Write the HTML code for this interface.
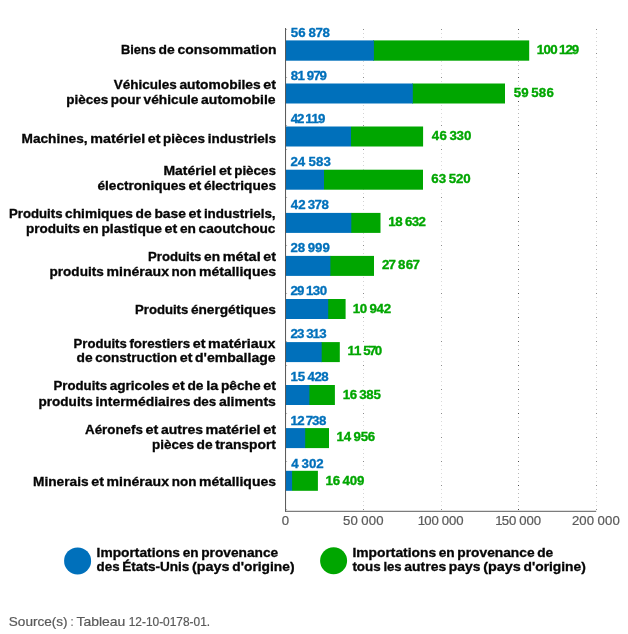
<!DOCTYPE html>
<html lang="fr">
<head>
<meta charset="utf-8">
<title>Importations selon le pays d'origine</title>
<style>
html,body{margin:0;padding:0;background:#fff;}
body{width:628px;height:634px;overflow:hidden;font-family:"Liberation Sans",sans-serif;}
svg{display:block;}
text{font-family:"Liberation Sans",sans-serif;}
.cat,.lg{font-weight:700;font-size:13.3px;fill:#060606;stroke:#060606;stroke-width:.32px;word-spacing:-.8px;}
.vb{font-weight:700;font-size:11.9px;fill:#0070BB;stroke:#0070BB;stroke-width:.3px;}
.vg{font-weight:700;font-size:11.9px;fill:#00A600;stroke:#00A600;stroke-width:.3px;}
.tk{font-size:12.2px;fill:#5a5a5a;stroke:#5a5a5a;stroke-width:.2px;}
.src{font-size:12.2px;fill:#5a5a5a;stroke:#5a5a5a;stroke-width:.2px;}
</style>
</head>
<body>
<svg width="628" height="634" viewBox="0 0 628 634">
<rect x="0" y="0" width="628" height="634" fill="#fff"/>
<g stroke-width="1" stroke-dasharray="1 3" fill="none">
<line x1="363.5" y1="29" x2="363.5" y2="511" stroke="#d4d4d4"/>
<line x1="441.5" y1="29" x2="441.5" y2="511" stroke="#dadada"/>
<line x1="518.5" y1="29" x2="518.5" y2="511" stroke="#b8b8b8"/>
<line x1="596.5" y1="29" x2="596.5" y2="511" stroke="#d0d0d0"/>
</g>
<g stroke-width="1" stroke-dasharray="1 23" fill="none">
<line x1="363.5" y1="29" x2="363.5" y2="511" stroke="#8c8c8c"/>
<line x1="441.5" y1="29" x2="441.5" y2="511" stroke="#8c8c8c"/>
<line x1="518.5" y1="29" x2="518.5" y2="511" stroke="#4a4a4a"/>
<line x1="596.5" y1="29" x2="596.5" y2="511" stroke="#8c8c8c"/>
</g>
<line x1="286.6" y1="29" x2="286.6" y2="511" stroke="#9a9a9a" stroke-width="0.8" stroke-dasharray="1 23"/>
<rect x="373" y="40.4" width="156.2" height="20.3" fill="#00A600"/><rect x="285.5" y="40.4" width="88.4" height="20.3" fill="#0070BB"/>
<rect x="412" y="83.5" width="93.0" height="20.0" fill="#00A600"/><rect x="285.5" y="83.5" width="127.3" height="20.0" fill="#0070BB"/>
<rect x="351" y="126.5" width="72.1" height="20.0" fill="#00A600"/><rect x="285.5" y="126.5" width="65.5" height="20.0" fill="#0070BB"/>
<rect x="324" y="169.7" width="99.0" height="20.0" fill="#00A600"/><rect x="285.5" y="169.7" width="38.5" height="20.0" fill="#0070BB"/>
<rect x="351" y="212.9" width="29.5" height="20.0" fill="#00A600"/><rect x="285.5" y="212.9" width="65.8" height="20.0" fill="#0070BB"/>
<rect x="330" y="255.9" width="44.0" height="20.0" fill="#00A600"/><rect x="285.5" y="255.9" width="44.9" height="20.0" fill="#0070BB"/>
<rect x="328" y="299.0" width="17.6" height="20.0" fill="#00A600"/><rect x="285.5" y="299.0" width="42.7" height="20.0" fill="#0070BB"/>
<rect x="321" y="342.1" width="18.8" height="20.0" fill="#00A600"/><rect x="285.5" y="342.1" width="36.2" height="20.0" fill="#0070BB"/>
<rect x="309" y="385.0" width="25.9" height="20.0" fill="#00A600"/><rect x="285.5" y="385.0" width="23.9" height="20.0" fill="#0070BB"/>
<rect x="305" y="428.1" width="24.0" height="20.0" fill="#00A600"/><rect x="285.5" y="428.1" width="19.7" height="20.0" fill="#0070BB"/>
<rect x="292" y="470.8" width="25.9" height="20.0" fill="#00A600"/><rect x="285.5" y="470.8" width="6.6" height="20.0" fill="#0070BB"/>
<line x1="285.55" y1="28" x2="285.55" y2="511.8" stroke="#555" stroke-width="1"/>
<line x1="285.05" y1="511.3" x2="596.2" y2="511.3" stroke="#5c5c5c" stroke-width="1"/>
<text class="cat" y="54.4"><tspan x="121.0" textLength="35.0" lengthAdjust="spacingAndGlyphs">Biens</tspan> <tspan x="158.6" textLength="16.2" lengthAdjust="spacingAndGlyphs">de</tspan> <tspan x="177.5" textLength="98.9" lengthAdjust="spacingAndGlyphs">consommation</tspan></text>
<text class="cat" y="89.0"><tspan x="113.8" textLength="63.0" lengthAdjust="spacingAndGlyphs">Véhicules</tspan> <tspan x="179.4" textLength="81.3" lengthAdjust="spacingAndGlyphs">automobiles</tspan> <tspan x="263.3" textLength="12.7" lengthAdjust="spacingAndGlyphs">et</tspan></text>
<text class="cat" y="104.3"><tspan x="66.2" textLength="42.0" lengthAdjust="spacingAndGlyphs">pièces</tspan> <tspan x="110.8" textLength="30.1" lengthAdjust="spacingAndGlyphs">pour</tspan> <tspan x="143.6" textLength="54.9" lengthAdjust="spacingAndGlyphs">véhicule</tspan> <tspan x="201.1" textLength="74.5" lengthAdjust="spacingAndGlyphs">automobile</tspan></text>
<text class="cat" y="143.1"><tspan x="21.5" textLength="66.1" lengthAdjust="spacingAndGlyphs">Machines,</tspan> <tspan x="90.3" textLength="54.8" lengthAdjust="spacingAndGlyphs">matériel</tspan> <tspan x="147.7" textLength="12.7" lengthAdjust="spacingAndGlyphs">et</tspan> <tspan x="163.0" textLength="42.0" lengthAdjust="spacingAndGlyphs">pièces</tspan> <tspan x="207.7" textLength="68.3" lengthAdjust="spacingAndGlyphs">industriels</tspan></text>
<text class="cat" y="174.6"><tspan x="163.5" textLength="52.7" lengthAdjust="spacingAndGlyphs">Matériel</tspan> <tspan x="218.9" textLength="12.7" lengthAdjust="spacingAndGlyphs">et</tspan> <tspan x="234.2" textLength="41.8" lengthAdjust="spacingAndGlyphs">pièces</tspan></text>
<text class="cat" y="189.6"><tspan x="97.5" textLength="88.4" lengthAdjust="spacingAndGlyphs">électroniques</tspan> <tspan x="188.5" textLength="12.7" lengthAdjust="spacingAndGlyphs">et</tspan> <tspan x="203.9" textLength="72.1" lengthAdjust="spacingAndGlyphs">électriques</tspan></text>
<text class="cat" y="217.6"><tspan x="9.0" textLength="53.5" lengthAdjust="spacingAndGlyphs">Produits</tspan> <tspan x="65.1" textLength="67.9" lengthAdjust="spacingAndGlyphs">chimiques</tspan> <tspan x="135.6" textLength="16.1" lengthAdjust="spacingAndGlyphs">de</tspan> <tspan x="154.4" textLength="31.5" lengthAdjust="spacingAndGlyphs">base</tspan> <tspan x="188.5" textLength="12.7" lengthAdjust="spacingAndGlyphs">et</tspan> <tspan x="203.9" textLength="71.7" lengthAdjust="spacingAndGlyphs">industriels,</tspan></text>
<text class="cat" y="232.7"><tspan x="26.0" textLength="54.1" lengthAdjust="spacingAndGlyphs">produits</tspan> <tspan x="82.7" textLength="16.0" lengthAdjust="spacingAndGlyphs">en</tspan> <tspan x="101.4" textLength="60.6" lengthAdjust="spacingAndGlyphs">plastique</tspan> <tspan x="164.6" textLength="12.7" lengthAdjust="spacingAndGlyphs">et</tspan> <tspan x="179.9" textLength="16.0" lengthAdjust="spacingAndGlyphs">en</tspan> <tspan x="198.6" textLength="76.9" lengthAdjust="spacingAndGlyphs">caoutchouc</tspan></text>
<text class="cat" y="260.6"><tspan x="148.0" textLength="53.4" lengthAdjust="spacingAndGlyphs">Produits</tspan> <tspan x="204.1" textLength="16.0" lengthAdjust="spacingAndGlyphs">en</tspan> <tspan x="222.7" textLength="38.0" lengthAdjust="spacingAndGlyphs">métal</tspan> <tspan x="263.3" textLength="12.7" lengthAdjust="spacingAndGlyphs">et</tspan></text>
<text class="cat" y="275.6"><tspan x="49.5" textLength="54.3" lengthAdjust="spacingAndGlyphs">produits</tspan> <tspan x="106.5" textLength="62.5" lengthAdjust="spacingAndGlyphs">minéraux</tspan> <tspan x="171.6" textLength="24.7" lengthAdjust="spacingAndGlyphs">non</tspan> <tspan x="199.0" textLength="77.0" lengthAdjust="spacingAndGlyphs">métalliques</tspan></text>
<text class="cat" y="313.5"><tspan x="135.0" textLength="53.3" lengthAdjust="spacingAndGlyphs">Produits</tspan> <tspan x="190.9" textLength="85.0" lengthAdjust="spacingAndGlyphs">énergétiques</tspan></text>
<text class="cat" y="347.5"><tspan x="73.5" textLength="53.3" lengthAdjust="spacingAndGlyphs">Produits</tspan> <tspan x="129.4" textLength="60.7" lengthAdjust="spacingAndGlyphs">forestiers</tspan> <tspan x="192.8" textLength="12.7" lengthAdjust="spacingAndGlyphs">et</tspan> <tspan x="208.1" textLength="67.2" lengthAdjust="spacingAndGlyphs">matériaux</tspan></text>
<text class="cat" y="362.4"><tspan x="76.5" textLength="16.1" lengthAdjust="spacingAndGlyphs">de</tspan> <tspan x="95.2" textLength="81.9" lengthAdjust="spacingAndGlyphs">construction</tspan> <tspan x="179.7" textLength="12.7" lengthAdjust="spacingAndGlyphs">et</tspan> <tspan x="195.0" textLength="80.6" lengthAdjust="spacingAndGlyphs">d'emballage</tspan></text>
<text class="cat" y="390.4"><tspan x="53.5" textLength="53.6" lengthAdjust="spacingAndGlyphs">Produits</tspan> <tspan x="109.7" textLength="59.7" lengthAdjust="spacingAndGlyphs">agricoles</tspan> <tspan x="172.0" textLength="12.7" lengthAdjust="spacingAndGlyphs">et</tspan> <tspan x="187.4" textLength="16.1" lengthAdjust="spacingAndGlyphs">de</tspan> <tspan x="206.2" textLength="12.1" lengthAdjust="spacingAndGlyphs">la</tspan> <tspan x="220.9" textLength="39.7" lengthAdjust="spacingAndGlyphs">pêche</tspan> <tspan x="263.3" textLength="12.7" lengthAdjust="spacingAndGlyphs">et</tspan></text>
<text class="cat" y="405.5"><tspan x="38.5" textLength="54.2" lengthAdjust="spacingAndGlyphs">produits</tspan> <tspan x="95.4" textLength="95.2" lengthAdjust="spacingAndGlyphs">intermédiaires</tspan> <tspan x="193.2" textLength="23.1" lengthAdjust="spacingAndGlyphs">des</tspan> <tspan x="218.9" textLength="57.0" lengthAdjust="spacingAndGlyphs">aliments</tspan></text>
<text class="cat" y="433.7"><tspan x="85.0" textLength="57.9" lengthAdjust="spacingAndGlyphs">Aéronefs</tspan> <tspan x="145.5" textLength="12.8" lengthAdjust="spacingAndGlyphs">et</tspan> <tspan x="161.0" textLength="42.0" lengthAdjust="spacingAndGlyphs">autres</tspan> <tspan x="205.6" textLength="55.0" lengthAdjust="spacingAndGlyphs">matériel</tspan> <tspan x="263.3" textLength="12.8" lengthAdjust="spacingAndGlyphs">et</tspan></text>
<text class="cat" y="448.7"><tspan x="152.0" textLength="41.9" lengthAdjust="spacingAndGlyphs">pièces</tspan> <tspan x="196.5" textLength="16.1" lengthAdjust="spacingAndGlyphs">de</tspan> <tspan x="215.2" textLength="60.8" lengthAdjust="spacingAndGlyphs">transport</tspan></text>
<text class="cat" y="485.9"><tspan x="33.0" textLength="55.6" lengthAdjust="spacingAndGlyphs">Minerais</tspan> <tspan x="91.2" textLength="12.7" lengthAdjust="spacingAndGlyphs">et</tspan> <tspan x="106.6" textLength="62.4" lengthAdjust="spacingAndGlyphs">minéraux</tspan> <tspan x="171.7" textLength="24.7" lengthAdjust="spacingAndGlyphs">non</tspan> <tspan x="199.1" textLength="76.9" lengthAdjust="spacingAndGlyphs">métalliques</tspan></text>
<text class="vb" transform="translate(291.49,36.80) scale(1.120,1)" x="-0.58 6.14 12.26 15.16 21.48 27.73" y="0">56 878</text>
<text class="vb" transform="translate(291.59,79.80) scale(1.120,1)" x="-0.68 5.19 11.04 13.60 19.28 25.00" y="0">81 979</text>
<text class="vb" transform="translate(291.73,122.80) scale(1.120,1)" x="-0.87 4.68 9.91 12.03 17.74 23.55" y="0">42 119</text>
<text class="vb" transform="translate(291.16,165.80) scale(1.120,1)" x="-0.60 5.96 12.34 15.43 22.15 28.82" y="0">24 583</text>
<text class="vb" transform="translate(291.01,209.00) scale(1.120,1)" x="-0.24 6.47 12.21 14.91 20.98 27.23" y="0">42 378</text>
<text class="vb" transform="translate(291.16,252.00) scale(1.120,1)" x="-0.60 5.80 12.03 14.82 21.35 27.88" y="0">28 999</text>
<text class="vb" transform="translate(291.39,295.20) scale(1.120,1)" x="-0.80 5.06 10.85 12.96 19.05 25.28" y="0">29 130</text>
<text class="vb" transform="translate(291.39,338.20) scale(1.120,1)" x="-0.81 4.96 10.73 13.21 18.84 24.91" y="0">23 313</text>
<text class="vb" transform="translate(291.57,381.40) scale(1.120,1)" x="-0.95 5.51 11.37 14.20 20.48 26.47" y="0">15 428</text>
<text class="vb" transform="translate(291.57,424.60) scale(1.120,1)" x="-0.95 5.01 10.55 12.69 18.32 24.50" y="0">12 738</text>
<text class="vb" transform="translate(291.51,467.80) scale(1.120,1)" x="-0.24 6.15 8.84 15.52 22.07" y="0">4 302</text>
<rect x="440.0" y="128.5" width="3" height="16" fill="#fff"/>
<rect x="440.0" y="171.5" width="3" height="16" fill="#fff"/>
<rect x="362.0" y="301.1" width="3" height="16" fill="#fff"/>
<rect x="362.0" y="343.8" width="3" height="16" fill="#fff"/>
<rect x="362.0" y="387.0" width="3" height="16" fill="#fff"/>
<rect x="362.0" y="429.8" width="3" height="16" fill="#fff"/>
<rect x="362.0" y="473.0" width="3" height="16" fill="#fff"/>
<text class="vg" transform="translate(537.77,53.80) scale(1.120,1)" x="-0.95 5.14 11.17 16.95 19.07 24.84 30.30" y="0">100 129</text>
<text class="vg" transform="translate(514.39,96.70) scale(1.120,1)" x="-0.58 6.02 12.02 15.11 21.83 28.72" y="0">59 586</text>
<text class="vg" transform="translate(431.91,140.00) scale(1.120,1)" x="-0.24 6.80 12.91 15.61 22.04 28.71" y="0">46 330</text>
<text class="vg" transform="translate(431.96,183.00) scale(1.120,1)" x="-0.53 6.02 12.01 15.10 21.49 27.93" y="0">63 520</text>
<text class="vg" transform="translate(389.27,226.40) scale(1.120,1)" x="-0.95 5.33 11.33 14.01 20.14 26.03" y="0">18 632</text>
<text class="vg" transform="translate(382.56,269.30) scale(1.120,1)" x="-0.60 5.23 10.83 13.74 20.62 26.82" y="0">27 867</text>
<text class="vg" transform="translate(353.87,312.60) scale(1.120,1)" x="-0.95 5.37 11.38 13.95 20.32 26.60" y="0">10 942</text>
<text class="vg" transform="translate(348.67,355.30) scale(1.120,1)" x="-0.95 4.77 10.61 13.07 18.14 23.32" y="0">11 570</text>
<text class="vg" transform="translate(343.87,398.50) scale(1.120,1)" x="-0.95 5.33 11.24 13.73 19.94 26.56" y="0">16 385</text>
<text class="vg" transform="translate(337.57,441.30) scale(1.120,1)" x="-0.95 5.48 11.64 14.22 20.63 26.93" y="0">14 956</text>
<text class="vg" transform="translate(326.67,484.50) scale(1.120,1)" x="-0.95 5.34 11.24 14.08 20.71 27.06" y="0">16 409</text>
<text class="tk" transform="translate(282.48,525.30) scale(1.080,1)" x="-0.60" y="0">0</text>
<text class="tk" transform="translate(343.68,525.30) scale(1.080,1)" x="-0.63 6.26 12.93 16.20 23.18 30.16" y="0">50 000</text>
<text class="tk" transform="translate(419.30,525.30) scale(1.080,1)" x="-1.48 4.52 11.21 17.74 20.87 27.56 34.25" y="0">100 000</text>
<text class="tk" transform="translate(496.80,525.30) scale(1.080,1)" x="-1.48 4.62 11.21 17.74 20.87 27.56 34.25" y="0">150 000</text>
<text class="tk" transform="translate(572.78,525.30) scale(1.080,1)" x="-0.72 5.91 12.89 19.57 22.84 29.81 36.79" y="0">200 000</text>
<circle cx="77.6" cy="560.9" r="13.5" fill="#0070BB"/>
<circle cx="333.6" cy="560.8" r="13.5" fill="#00A600"/>
<text class="lg" y="557.0"><tspan x="96.6" textLength="83.4" lengthAdjust="spacingAndGlyphs">Importations</tspan> <tspan x="182.7" textLength="15.9" lengthAdjust="spacingAndGlyphs">en</tspan> <tspan x="201.2" textLength="77.0" lengthAdjust="spacingAndGlyphs">provenance</tspan></text>
<text class="lg" y="571.3"><tspan x="96.6" textLength="23.0" lengthAdjust="spacingAndGlyphs">des</tspan> <tspan x="122.3" textLength="67.1" lengthAdjust="spacingAndGlyphs">États-Unis</tspan> <tspan x="192.0" textLength="37.6" lengthAdjust="spacingAndGlyphs">(pays</tspan> <tspan x="232.3" textLength="62.2" lengthAdjust="spacingAndGlyphs">d'origine)</tspan></text>
<text class="lg" y="557.0"><tspan x="352.4" textLength="83.7" lengthAdjust="spacingAndGlyphs">Importations</tspan> <tspan x="438.7" textLength="16.0" lengthAdjust="spacingAndGlyphs">en</tspan> <tspan x="457.3" textLength="77.3" lengthAdjust="spacingAndGlyphs">provenance</tspan> <tspan x="537.2" textLength="16.0" lengthAdjust="spacingAndGlyphs">de</tspan></text>
<text class="lg" y="571.3"><tspan x="352.4" textLength="28.3" lengthAdjust="spacingAndGlyphs">tous</tspan> <tspan x="383.4" textLength="18.3" lengthAdjust="spacingAndGlyphs">les</tspan> <tspan x="404.3" textLength="41.9" lengthAdjust="spacingAndGlyphs">autres</tspan> <tspan x="448.8" textLength="31.7" lengthAdjust="spacingAndGlyphs">pays</tspan> <tspan x="483.2" textLength="37.7" lengthAdjust="spacingAndGlyphs">(pays</tspan> <tspan x="523.5" textLength="62.3" lengthAdjust="spacingAndGlyphs">d'origine)</tspan></text>
<text class="src" y="625.7"><tspan x="8.8" textLength="58.8" lengthAdjust="spacingAndGlyphs">Source(s)</tspan> <tspan x="70.8" textLength="2.6" lengthAdjust="spacingAndGlyphs">:</tspan> <tspan x="76.5" textLength="48.9" lengthAdjust="spacingAndGlyphs">Tableau</tspan> <tspan x="128.7" textLength="81.4" lengthAdjust="spacingAndGlyphs">12-10-0178-01.</tspan></text>
</svg>
</body>
</html>
